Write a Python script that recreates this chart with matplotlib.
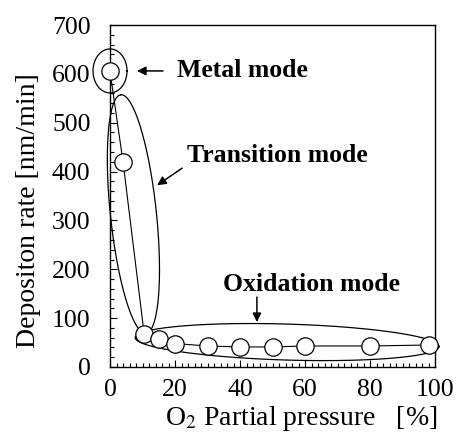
import numpy as np
import matplotlib
matplotlib.use("Agg")
import matplotlib.pyplot as plt
from matplotlib.ticker import MultipleLocator

plt.rcParams["font.family"] = ["Liberation Serif", "DejaVu Serif"]
plt.rcParams["mathtext.fontset"] = "stix"

# O2 partial pressure [%] and deposition rate [nm/min]
o2_pressure = [0, 4, 10.5, 15, 20, 30, 40, 50, 60, 80, 98]
dep_rate = [605, 420, 68, 58, 48, 43, 41, 41, 43, 43, 45]

x_ticks = [0, 20, 40, 60, 80, 100]
y_ticks = [0, 100, 200, 300, 400, 500, 600, 700]

fig = plt.figure(figsize=(4.65, 4.32), dpi=100)
ax = fig.add_axes([0.2366, 0.1505, 0.6989, 0.7916])
ax.set_xlim(0, 100)
ax.set_ylim(0, 700)

ax.plot(o2_pressure, dep_rate, color="black", lw=0.8, marker="o",
        markersize=12.5, markerfacecolor="white", markeredgecolor="black",
        markeredgewidth=0.9, clip_on=False, zorder=4)

ax.set_xticks(x_ticks)
ax.set_yticks(y_ticks)
ax.xaxis.set_minor_locator(MultipleLocator(2))
ax.yaxis.set_minor_locator(MultipleLocator(20))
ax.tick_params(which="both", direction="in", top=False, right=False,
               width=0.8, labelsize=18.5)
ax.tick_params(axis="y", which="major", length=5, pad=14)
ax.tick_params(axis="x", which="major", length=5, pad=9)
ax.tick_params(which="minor", length=3)
for s in ax.spines.values():
    s.set_linewidth(1.0)

ax.set_xlabel(r"O$_2$ Partial pressure   [%]", fontsize=20)
ax.xaxis.set_label_coords(0.588, -0.152)
ax.xaxis.label.set_va("center")
ax.set_ylabel("Depositon rate [nm/min]", fontsize=20)
ax.yaxis.set_label_coords(-0.252, 0.456)
ax.yaxis.label.set_va("center")


def ring(ax, cx, cy, a_px, b_px, angle_deg):
    """Ellipse outline centred at a data point, sized in screen pixels."""
    x0, x1 = ax.get_xlim()
    y0, y1 = ax.get_ylim()
    sx = ax.bbox.width / (x1 - x0)
    sy = ax.bbox.height / (y1 - y0)
    t = np.linspace(0, 2 * np.pi, 400)
    th = np.deg2rad(angle_deg)
    dx = a_px * np.cos(t) * np.cos(th) - b_px * np.sin(t) * np.sin(th)
    dy = a_px * np.cos(t) * np.sin(th) + b_px * np.sin(t) * np.cos(th)
    ax.plot(cx + dx / sx, cy + dy / sy, color="black", lw=0.9,
            clip_on=False, zorder=3)


ring(ax, 0, 606, 17, 22, 0)          # metal mode
ring(ax, 7.2, 313, 120, 23, 96)      # transition mode
ring(ax, 54.5, 51, 152, 18, -1.7)    # oxidation mode

arrow = dict(arrowstyle="-|>", color="black", lw=1.1, mutation_scale=13,
             shrinkA=0, shrinkB=0)
bold = dict(fontsize=18.5, fontweight="bold", ha="left", va="center")

ax.annotate("", xy=(8.3, 606), xytext=(16.3, 606), arrowprops=arrow,
            annotation_clip=False)
ax.text(20.6, 606, "Metal mode", **bold)

ax.annotate("", xy=(14.5, 372), xytext=(22.2, 407), arrowprops=arrow,
            annotation_clip=False)
ax.text(23.7, 432, "Transition mode", **bold)

ax.annotate("", xy=(45.2, 92), xytext=(45.2, 143), arrowprops=arrow,
            annotation_clip=False)
ax.text(34.8, 168, "Oxidation mode", **bold)

fig.savefig("out.png", dpi=100)
